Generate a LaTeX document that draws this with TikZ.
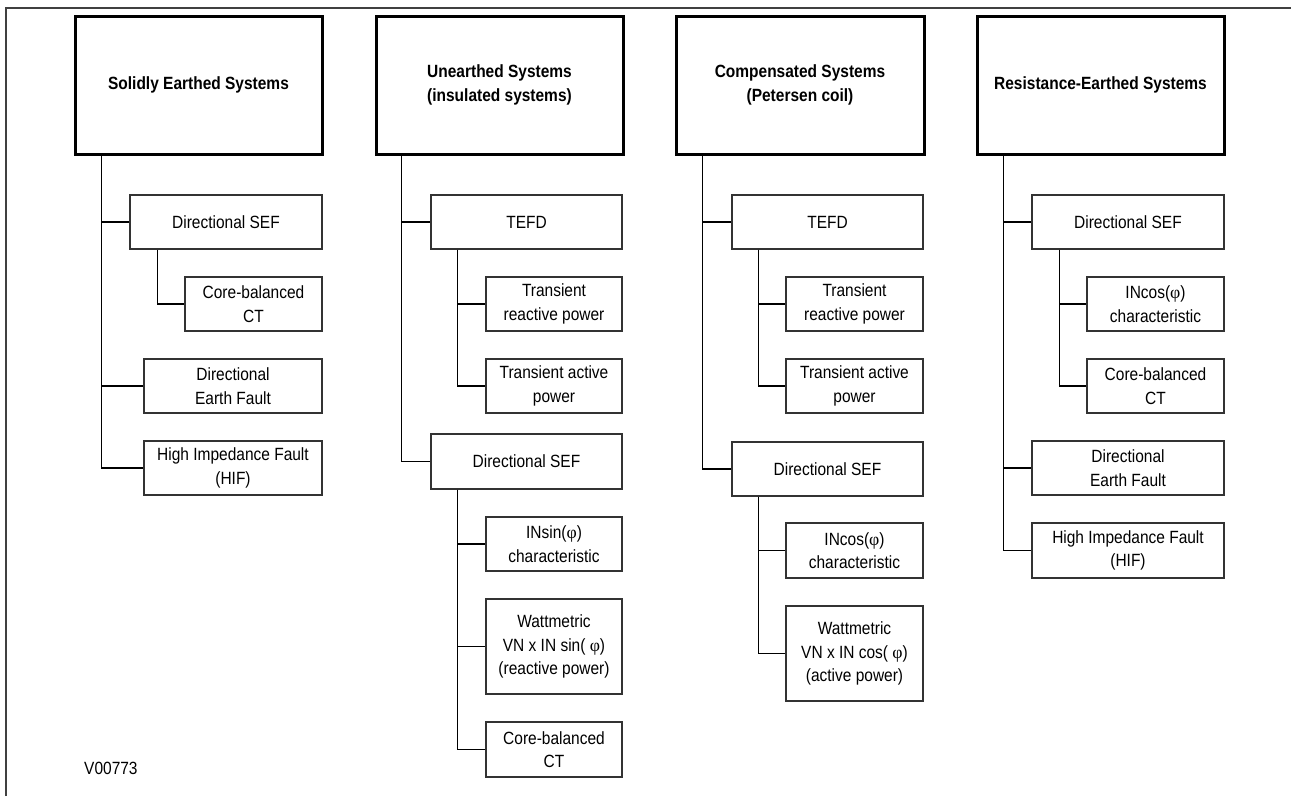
\documentclass[tikz,border=0pt]{standalone}
\usepackage{fontspec}
\setmainfont{Liberation Sans}[FakeStretch=0.875]
\newfontfamily\phifont{Liberation Serif}
\usetikzlibrary{calc}
\newcommand\phisym{{\phifont φ}}
\newcommand\labelsize{\fontsize{17.7}{23.5}\selectfont}
\tikzset{
  head/.style={draw=black, line width=3pt, inner sep=0pt, align=center, font=\labelsize\bfseries},
  leaf/.style={draw=black!80, line width=1.1pt, inner sep=0pt, align=center, font=\labelsize},
  conn/.style={draw=black, line width=1.2pt},
  frameline/.style={draw=black!75, line width=2.5pt}
}
% leaf box given by its corners: name, x1, y1, x2, y2, text
\newcommand\leafbox[6]{%
  \node[leaf, minimum width={#4-#2}, minimum height={#5-#3}] (#1)
    at ({(#2+#4)/2},{(#3+#5)/2}) {#6};}
\begin{document}
\begin{tikzpicture}[x=1pt, y=-1pt, font=\labelsize]
\useasboundingbox (0,0) rectangle (1291,796);
\draw[frameline] (6,796) -- (6,8) -- (1291,8);

% column heads
\node[head, minimum width=247, minimum height=138] (t1) at (198.5,85) {Solidly Earthed Systems};
\node[head, minimum width=247, minimum height=138] (t2) at (499.5,85) {Unearthed Systems\\(insulated systems)};
\node[head, minimum width=248, minimum height=138] (t3) at (800,85) {Compensated Systems\\(Petersen coil)};
\node[head, minimum width=247, minimum height=138] (t4) at (1100.5,85) {Resistance-Earthed Systems};

% solidly earthed
\leafbox{a1}{130}{195}{322}{249}{Directional SEF}
\leafbox{a2}{185}{277}{322}{331}{Core-balanced\\CT}
\leafbox{a3}{144}{359}{322}{413}{Directional\\Earth Fault}
\leafbox{a4}{144}{441}{322}{495}{High Impedance Fault\\(HIF)}

% unearthed
\leafbox{b1}{431}{195}{622}{249}{TEFD}
\leafbox{b2}{486}{277}{622}{331}{Transient\\reactive power}
\leafbox{b3}{486}{359}{622}{413}{Transient active\\power}
\leafbox{b4}{431}{434}{622}{489}{Directional SEF}
\leafbox{b5}{486}{517}{622}{571}{INsin(\phisym)\\characteristic}
\leafbox{b6}{486}{599}{622}{694}{Wattmetric\\VN x IN sin( \phisym)\\(reactive power)}
\leafbox{b7}{486}{722}{622}{777}{Core-balanced\\CT}

% compensated
\leafbox{c1}{732}{195}{923}{249}{TEFD}
\leafbox{c2}{786}{277}{923}{331}{Transient\\reactive power}
\leafbox{c3}{786}{359}{923}{413}{Transient active\\power}
\leafbox{c4}{732}{442}{923}{496}{Directional SEF}
\leafbox{c5}{786}{523}{923}{578}{INcos(\phisym)\\characteristic}
\leafbox{c6}{786}{606}{923}{701}{Wattmetric\\VN x IN cos( \phisym)\\(active power)}

% resistance earthed
\leafbox{d1}{1032}{195}{1224}{249}{Directional SEF}
\leafbox{d2}{1087}{277}{1224}{331}{INcos(\phisym)\\characteristic}
\leafbox{d3}{1087}{359}{1224}{413}{Core-balanced\\CT}
\leafbox{d4}{1032}{441}{1224}{495}{Directional\\Earth Fault}
\leafbox{d5}{1032}{523}{1224}{578}{High Impedance Fault\\(HIF)}

% branch points under each parent box
\coordinate (t1b) at ($(t1.south west)+(28,0)$);
\coordinate (t2b) at ($(t2.south west)+(27,0)$);
\coordinate (t3b) at ($(t3.south west)+(28,0)$);
\coordinate (t4b) at ($(t4.south west)+(28,0)$);
\coordinate (a1b) at ($(a1.south west)+(28,0)$);
\coordinate (b1b) at ($(b1.south west)+(27,0)$);
\coordinate (b4b) at ($(b4.south west)+(27,0)$);
\coordinate (c1b) at ($(c1.south west)+(27,0)$);
\coordinate (c4b) at ($(c4.south west)+(27,0)$);
\coordinate (d1b) at ($(d1.south west)+(28,0)$);

% connectors
\draw[conn] (t1b) |- (a1.west);
\draw[conn] (t1b) |- (a3.west);
\draw[conn] (t1b) |- (a4.west);
\draw[conn] (a1b) |- (a2.west);

\draw[conn] (t2b) |- (b1.west);
\draw[conn] (t2b) |- (b4.west);
\draw[conn] (b1b) |- (b2.west);
\draw[conn] (b1b) |- (b3.west);
\draw[conn] (b4b) |- (b5.west);
\draw[conn] (b4b) |- (b6.west);
\draw[conn] (b4b) |- (b7.west);

\draw[conn] (t3b) |- (c1.west);
\draw[conn] (t3b) |- (c4.west);
\draw[conn] (c1b) |- (c2.west);
\draw[conn] (c1b) |- (c3.west);
\draw[conn] (c4b) |- (c5.west);
\draw[conn] (c4b) |- (c6.west);

\draw[conn] (t4b) |- (d1.west);
\draw[conn] (t4b) |- (d4.west);
\draw[conn] (t4b) |- (d5.west);
\draw[conn] (d1b) |- (d2.west);
\draw[conn] (d1b) |- (d3.west);

\node[anchor=west, inner sep=0pt] (code) at (84,768) {V00773};
\end{tikzpicture}
\end{document}
